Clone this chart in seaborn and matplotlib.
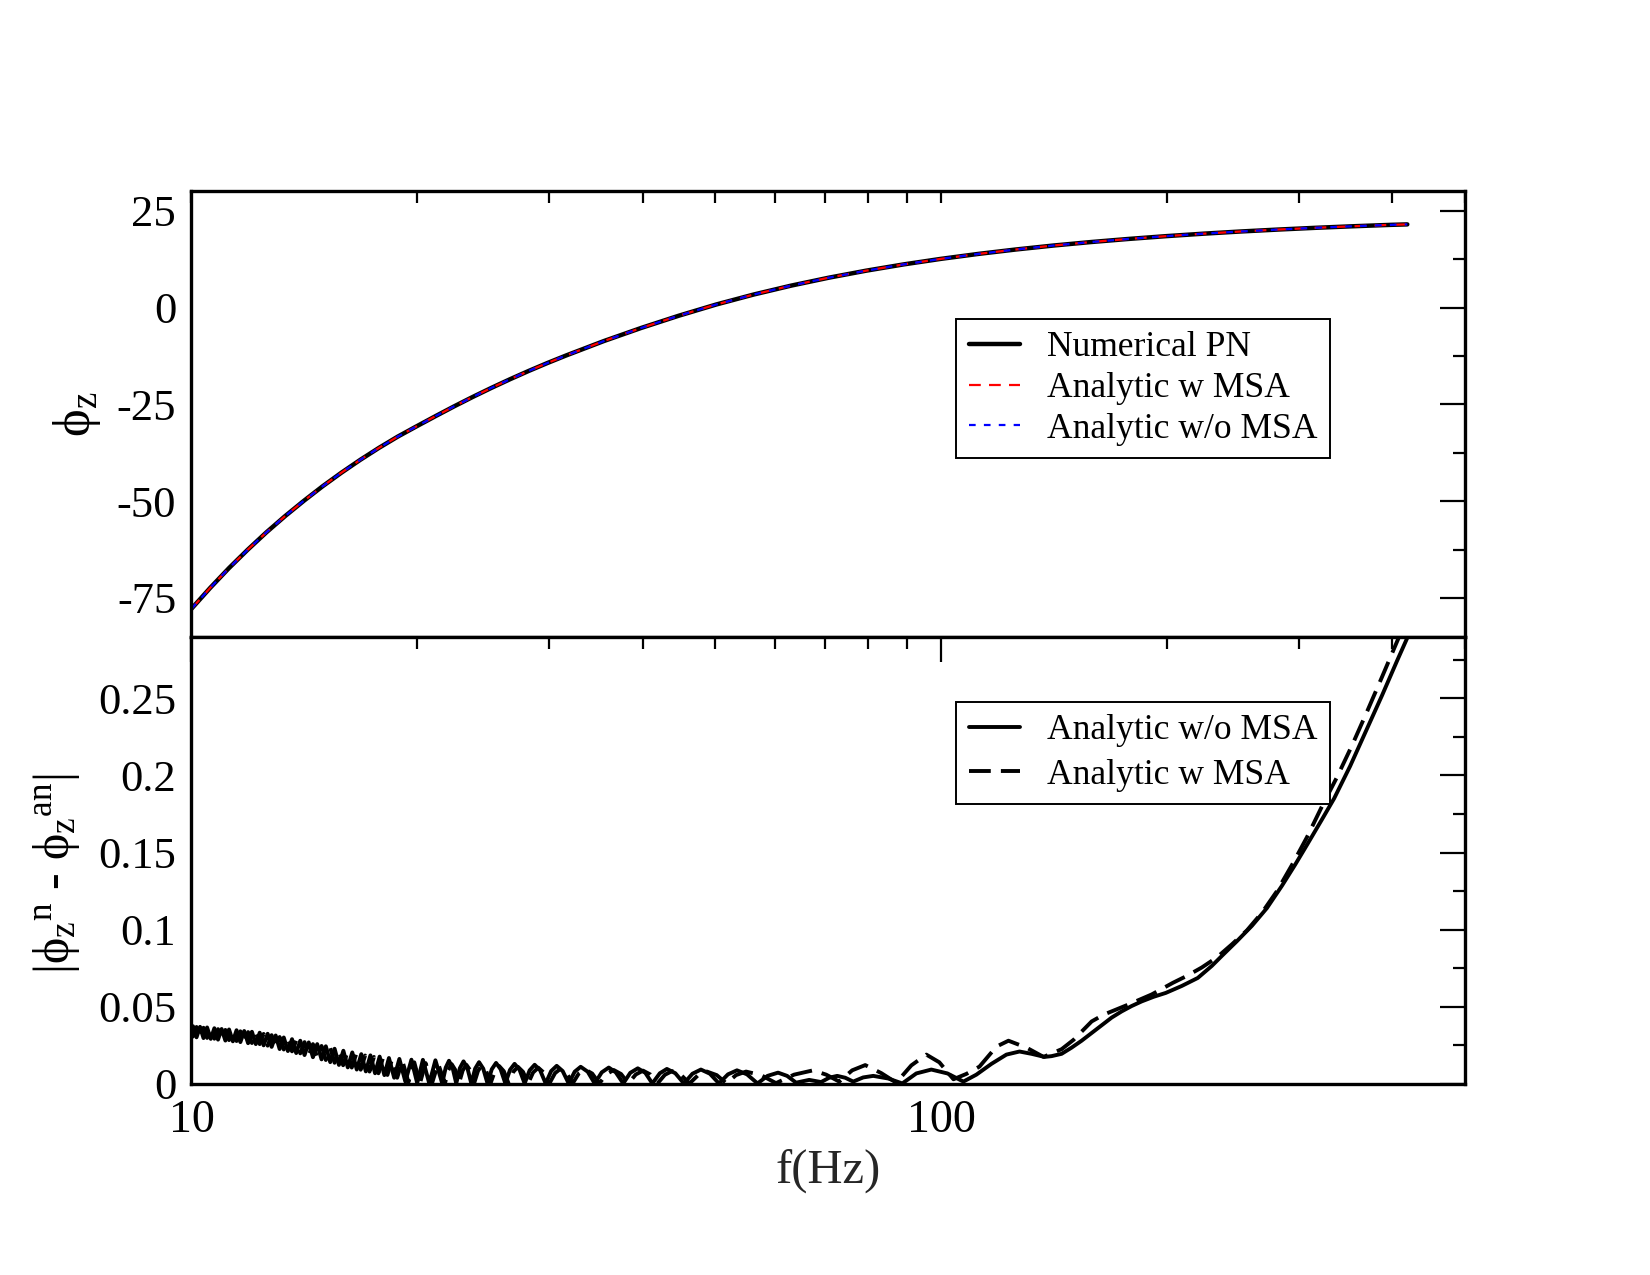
import numpy as np
import matplotlib
matplotlib.use("Agg")
import matplotlib.pyplot as plt
import seaborn as sns
from matplotlib.ticker import LogLocator, NullFormatter, FuncFormatter, MultipleLocator

# ---------------- data ----------------
# top panel: phi_z versus log10(f / Hz)
logf_top = [1.000, 1.025, 1.050, 1.075, 1.100, 1.125, 1.150, 1.175, 1.200, 1.225,
            1.250, 1.275, 1.300, 1.325, 1.350, 1.375, 1.400, 1.425, 1.450, 1.475,
            1.500, 1.550, 1.600, 1.650, 1.700, 1.750, 1.800, 1.850, 1.900, 1.950,
            2.000, 2.050, 2.100, 2.150, 2.200, 2.250, 2.300, 2.350, 2.400, 2.450,
            2.500, 2.550, 2.600, 2.622]
phi_numerical = [-77.8, -72.4, -67.3, -62.55, -58.05, -53.85, -49.9, -46.15, -42.65, -39.35,
                 -36.25, -33.35, -30.7, -28.1, -25.55, -23.1, -20.75, -18.5, -16.35, -14.3,
                 -12.35, -8.65, -5.25, -2.1, 0.8, 3.38, 5.68, 7.72, 9.54, 11.16,
                 12.6, 13.88, 15.02, 16.04, 16.94, 17.74, 18.46, 19.1, 19.67, 20.17,
                 20.62, 21.02, 21.38, 21.5]
phi_w_msa = list(phi_numerical)    # indistinguishable from the numerical curve
phi_wo_msa = list(phi_numerical)   # indistinguishable from the numerical curve

# bottom panel: |phi_z^n - phi_z^an|, analytic without MSA (solid)
logf_wo = [
    1.0000, 1.0020, 1.0067, 1.0114, 1.0160, 1.0208, 1.0257, 1.0305, 1.0354, 1.0402,
    1.0452, 1.0501, 1.0552, 1.0601, 1.0652, 1.0703, 1.0755, 1.0806, 1.0858, 1.0910,
    1.0962, 1.1016, 1.1069, 1.1123, 1.1176, 1.1231, 1.1286, 1.1341, 1.1397, 1.1451,
    1.1508, 1.1564, 1.1620, 1.1677, 1.1735, 1.1792, 1.1851, 1.1909, 1.1967, 1.2026,
    1.2085, 1.2145, 1.2205, 1.2265, 1.2326, 1.2387, 1.2449, 1.2510, 1.2573, 1.2634,
    1.2704, 1.2773, 1.2853, 1.2934, 1.3011, 1.3087, 1.3172, 1.3254, 1.3345,
    1.3391, 1.3435, 1.3483, 1.3532,
    1.3580, 1.3629, 1.3681, 1.3733,
    1.3784, 1.3836, 1.3892, 1.3949,
    1.4006, 1.4063, 1.4124, 1.4187,
    1.4249, 1.4310, 1.4377, 1.4444,
    1.4511, 1.4578, 1.4651, 1.4725,
    1.4798, 1.4872, 1.4952, 1.5032,
    1.5112, 1.5192, 1.5286, 1.5379,
    1.5473, 1.5567, 1.5660, 1.5760,
    1.5854, 1.5954, 1.6054, 1.6148,
    1.6248, 1.6342, 1.6455, 1.6569,
    1.6683, 1.6796, 1.6916, 1.7037,
    1.7157, 1.7277, 1.7411, 1.7551,
    1.7685, 1.7825, 1.7946, 1.8066,
    1.8240, 1.8400, 1.8507, 1.8614, 1.8721, 1.8828, 1.8961, 1.9095, 1.9295, 1.9483,
    1.9670, 1.9870, 2.0084, 2.0298,
    2.0471, 2.0672, 2.0872, 2.1046, 2.1207, 2.1380, 2.1474, 2.1608, 2.1741, 2.1875,
    2.2009, 2.2142, 2.2276, 2.2409, 2.2543, 2.2677, 2.2837, 2.2998, 2.3211, 2.3425,
    2.3612, 2.3746, 2.3946, 2.4147, 2.4347, 2.4548, 2.4722, 2.4882, 2.5082, 2.5243,
    2.5457, 2.5671, 2.5884, 2.6085, 2.6218, 2.6312]
dphi_wo = [
    .0325, .0374, .0302, .0370, .0297, .0366, .0292, .0361, .0287, .0356,
    .0281, .0353, .0276, .0348, .0271, .0343, .0264, .0338, .0258, .0332,
    .0250, .0325, .0240, .0314, .0226, .0301, .0213, .0290, .0200, .0280,
    .0187, .0269, .0173, .0258, .0159, .0244, .0141, .0228, .0123, .0215,
    .0107, .0204, .0093, .0193, .0081, .0185, .0069, .0177, .0057, .0168,
    .0040, .0162, .0015, .0157, .0005, .0156, .0003, .0153, .0003,
    .0105, .0150, .0105, .0003,
    .0102, .0146, .0102, .0003,
    .0099, .0141, .0099, .0003,
    .0095, .0136, .0095, .0003,
    .0091, .0130, .0091, .0003,
    .0088, .0124, .0088, .0003,
    .0083, .0117, .0083, .0003,
    .0079, .0111, .0079, .0003,
    .0075, .0106, .0075, .0003,
    .0072, .0101, .0072, .0003,
    .0069, .0097, .0069, .0003,
    .0066, .0093, .0066, .0003,
    .0062, .0088, .0062, .0003,
    .0052, .0073, .0052, .0008,
    .0026, .0012, .0040, .0052, .0040, .0015, .0042, .0052, .0035, .0003,
    .0068, .0093, .0068, .0015,
    .0060, .0130, .0190, .0210, .0195, .0175, .0180, .0195, .0235, .0280,
    .0330, .0380, .0430, .0470, .0505, .0535, .0565, .0590, .0635, .0687,
    .0765, .0830, .0925, .1025, .1140, .1285, .1420, .1550, .1715, .1850,
    .2060, .2290, .2520, .2745, .2890, .2995]

# analytic with MSA (dashed)
logf_w = [
    1.0000, 1.0020, 1.0067, 1.0114, 1.0160, 1.0208, 1.0257, 1.0305, 1.0354, 1.0402,
    1.0452, 1.0501, 1.0552, 1.0601, 1.0652, 1.0703, 1.0755, 1.0806, 1.0858, 1.0910,
    1.0962, 1.1016, 1.1069, 1.1123, 1.1176, 1.1231, 1.1286, 1.1341, 1.1397, 1.1451,
    1.1508, 1.1564, 1.1620, 1.1677, 1.1735, 1.1792, 1.1851, 1.1909, 1.1967, 1.2023,
    1.2078, 1.2138, 1.2197, 1.2257, 1.2316, 1.2375, 1.2434, 1.2494, 1.2553, 1.2614,
    1.2674, 1.2744, 1.2813, 1.2894, 1.2972, 1.3047, 1.3123, 1.3208, 1.3290, 1.3381,
    1.3427, 1.3471, 1.3520, 1.3568,
    1.3618, 1.3667, 1.3720, 1.3770,
    1.3822, 1.3873, 1.3931, 1.3989,
    1.4047, 1.4104, 1.4167, 1.4230,
    1.4293, 1.4354, 1.4423, 1.4491,
    1.4557, 1.4626, 1.4698, 1.4775,
    1.4850, 1.4925, 1.5005, 1.5085,
    1.5166, 1.5250, 1.5346, 1.5441,
    1.5537, 1.5633, 1.5731, 1.5828,
    1.5927, 1.6024, 1.6121, 1.6217,
    1.6315, 1.6411, 1.6529, 1.6644,
    1.6760, 1.6876, 1.7007, 1.7137,
    1.7264, 1.7398, 1.7598, 1.7798,
    1.8039, 1.8293, 1.8467, 1.8641, 1.8814, 1.8988, 1.9202, 1.9402, 1.9603, 1.9803,
    1.9977, 2.0165, 2.0338, 2.0512, 2.0739, 2.0899, 2.1140, 2.1367, 2.1608, 2.1768,
    2.2009, 2.2169, 2.2476, 2.2810, 2.3091, 2.3278, 2.3479, 2.3679, 2.3880, 2.4080,
    2.4281, 2.4481, 2.4682, 2.4882, 2.5082, 2.5283, 2.5483, 2.5684, 2.5884, 2.6085,
    2.6218]
dphi_w = [
    .0355, .0307, .0369, .0303, .0364, .0298, .0360, .0293, .0355, .0288,
    .0350, .0284, .0346, .0278, .0341, .0271, .0336, .0265, .0332, .0258,
    .0324, .0248, .0316, .0237, .0304, .0223, .0291, .0211, .0281, .0198,
    .0271, .0185, .0258, .0171, .0246, .0155, .0233, .0137, .0215, .0121,
    .0203, .0106, .0193, .0092, .0184, .0080, .0175, .0069, .0166, .0058,
    .0158, .0040, .0150, .0012, .0140, .0003, .0135, .0003, .0132, .0003,
    .0090, .0128, .0090, .0003,
    .0087, .0124, .0087, .0003,
    .0084, .0120, .0084, .0003,
    .0082, .0116, .0082, .0003,
    .0078, .0111, .0078, .0003,
    .0074, .0105, .0074, .0003,
    .0070, .0099, .0070, .0003,
    .0067, .0094, .0067, .0003,
    .0064, .0090, .0064, .0003,
    .0061, .0086, .0061, .0003,
    .0059, .0083, .0059, .0003,
    .0057, .0080, .0057, .0003,
    .0057, .0080, .0057, .0005,
    .0060, .0088, .0060, .0015, .0088, .0122, .0070, .0008, .0120, .0190,
    .0140, .0030, .0065, .0112, .0242, .0280, .0235, .0175, .0225, .0286,
    .0405, .0449, .0510, .0580, .0655, .0700, .0755, .0820, .0905, .0995,
    .1110, .1250, .1420, .1600, .1800, .1990, .2195, .2415, .2640, .2870,
    .3020]

top_labels = ["Numerical PN", "Analytic w MSA", "Analytic w/o MSA"]
bottom_labels = ["Analytic w/o MSA", "Analytic w MSA"]

# ---------------- style ----------------
sns.set_theme(style="white")
plt.rcParams.update({
    "font.family": ["Liberation Serif", "DejaVu Serif"],
    "mathtext.fontset": "stix",
    "mathtext.default": "regular",
    "axes.unicode_minus": False,
    "axes.linewidth": 2.4,
    "axes.edgecolor": "black",
    "xtick.color": "black",
    "ytick.color": "black",
    "text.color": "black",
})

fig = plt.figure(figsize=(16.5, 12.75), dpi=100)
fig.patch.set_facecolor("white")
ax1 = fig.add_axes([0.11606, 0.50071, 0.77182, 0.34910])
ax2 = fig.add_axes([0.11606, 0.14988, 0.77182, 0.35082])

# ---------------- top panel ----------------
f_top = 10 ** np.asarray(logf_top)
sns.lineplot(x=f_top, y=phi_numerical, ax=ax1, color="black", lw=3.2,
             estimator=None, sort=False, legend=False)
sns.lineplot(x=f_top, y=phi_w_msa, ax=ax1, color="red", lw=1.6,
             estimator=None, sort=False, legend=False)
ax1.lines[-1].set_dashes([5.3, 3.7])
sns.lineplot(x=f_top, y=phi_wo_msa, ax=ax1, color="blue", lw=1.6,
             estimator=None, sort=False, legend=False)
ax1.lines[-1].set_dashes([3.0, 3.7])

# ---------------- bottom panel ----------------
sns.lineplot(x=10 ** np.asarray(logf_wo), y=dphi_wo, ax=ax2, color="black", lw=2.8,
             estimator=None, sort=False, legend=False)
sns.lineplot(x=10 ** np.asarray(logf_w), y=dphi_w, ax=ax2, color="black", lw=2.8,
             estimator=None, sort=False, legend=False)
ax2.lines[-1].set_dashes([5.6, 2.6])

# ---------------- axes ----------------
fmt = FuncFormatter(lambda v, p: f"{v:g}")
for ax in (ax1, ax2):
    ax.set_xscale("log")
    ax.set_xlim(10, 500)
    ax.xaxis.set_major_locator(LogLocator(base=10, numticks=10))
    ax.xaxis.set_minor_locator(LogLocator(base=10, subs=np.arange(2, 10), numticks=30))
    ax.xaxis.set_minor_formatter(NullFormatter())
    ax.xaxis.set_major_formatter(fmt)
    ax.yaxis.set_major_formatter(fmt)
    ax.tick_params(which="both", direction="in", top=True, right=True,
                   width=1.6, color="black")
    ax.tick_params(axis="y", which="major", length=18, labelsize=32, pad=11)
    ax.tick_params(axis="y", which="minor", length=8.8)
    ax.tick_params(axis="x", which="minor", length=8.8)
    ax.set_facecolor("white")
    ax.set_xlabel("")
    ax.set_ylabel("")

ax1.tick_params(axis="x", which="major", length=8.8, labelbottom=False)
ax2.tick_params(axis="x", which="major", length=18, labelsize=33, pad=11)

ax1.set_ylim(-85, 30)
ax1.yaxis.set_major_locator(MultipleLocator(25))
ax1.yaxis.set_minor_locator(MultipleLocator(12.5))

ax2.set_ylim(0, 0.29)
ax2.yaxis.set_major_locator(MultipleLocator(0.05))
ax2.yaxis.set_minor_locator(MultipleLocator(0.025))

ax2.set_xlabel("f(Hz)", fontsize=35, labelpad=5)

ax1.text(-0.09, 0.5, r"$\phi_z$", rotation=90, transform=ax1.transAxes,
         ha="center", va="center", fontsize=38)
ax2.text(-0.106, 0.47, r"|$\phi_z{}^n$ - $\phi_z{}^{an}$|", rotation=90,
         transform=ax2.transAxes, ha="center", va="center", fontsize=36)

# ---------------- legends ----------------
leg_kw = dict(loc="upper left", fontsize=25.6, frameon=True, fancybox=False,
              shadow=False, edgecolor="black", framealpha=1, borderaxespad=0,
              handlelength=1.45, handletextpad=0.75, borderpad=0.35)
leg1 = ax1.legend(ax1.lines[:3], top_labels, bbox_to_anchor=(0.6007, 0.714),
                  labelspacing=0.22, **leg_kw)
leg1.get_frame().set_linewidth(1.4)
leg2 = ax2.legend(ax2.lines[:2], bottom_labels, bbox_to_anchor=(0.6007, 0.854),
                  labelspacing=0.32, **leg_kw)
leg2.get_frame().set_linewidth(1.4)

fig.savefig("out.png", dpi=100, facecolor="white")
